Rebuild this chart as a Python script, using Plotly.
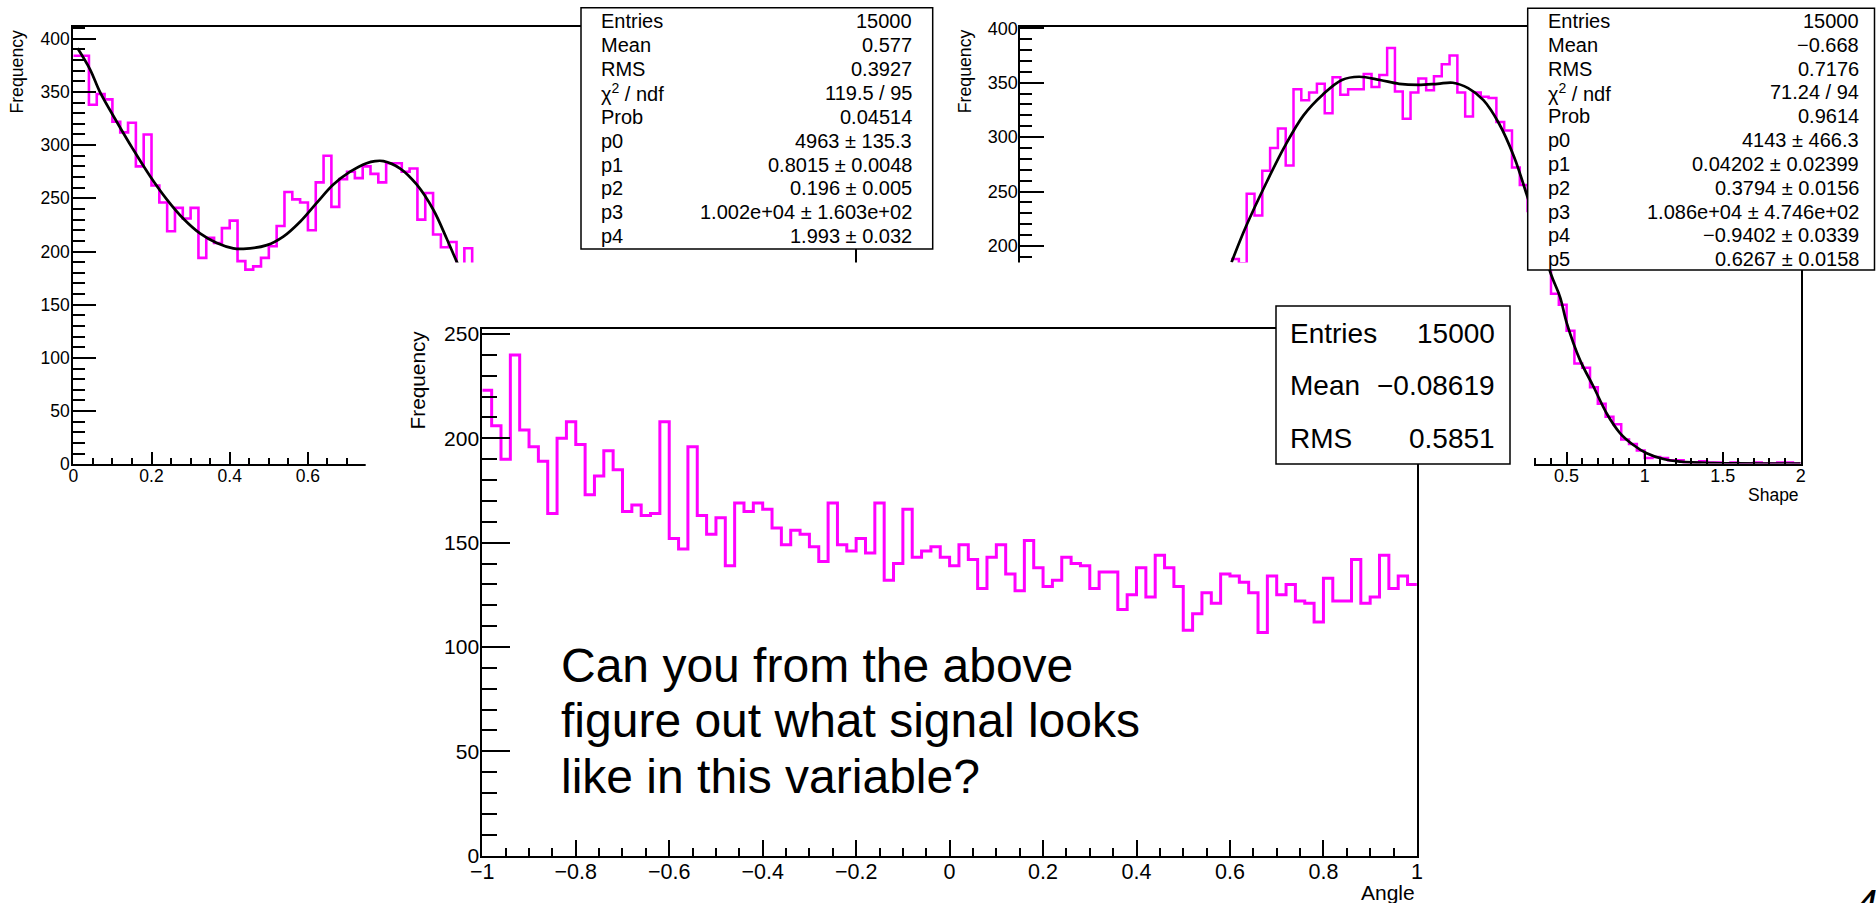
import plotly.graph_objects as go

W, H = 1876, 903
FONT = "Liberation Sans, Arial, Helvetica, sans-serif"
MAG = "#ff00ff"

# ---------------- data ----------------
# Panel A (top-left): 0.02 wide bins starting at 0
A_XMIN, A_BINW = 0.0, 0.02
a_counts = [384, 384, 338, 348, 343, 322, 312, 321, 280, 310,
            262, 246, 219, 241, 231, 241, 194, 213, 208, 222,
            229, 191, 183, 186, 194, 205, 224, 256, 249, 246,
            220, 265, 290, 242, 268, 275, 269, 280, 273, 265,
            283, 283, 275, 278, 230, 255, 216, 204, 209, 186,
            203, 180]
a_fit_x = [0.011, 0.043, 0.068, 0.111, 0.153, 0.196, 0.239, 0.281, 0.324,
           0.367, 0.409, 0.435, 0.495, 0.537, 0.580, 0.623, 0.665, 0.708,
           0.750, 0.772, 0.793, 0.836, 0.878, 0.921, 0.955, 0.981, 1.02]
a_fit_y = [391, 371, 350, 322, 296, 271, 249, 231, 217,
           208, 203, 202.5, 206, 214, 228, 246, 263, 275,
           283, 285, 285, 278, 263, 239, 212, 190, 158]
a_stats_labels = ["Entries", "Mean", "RMS", "χ<sup>2</sup> / ndf", "Prob",
                  "p0", "p1", "p2", "p3", "p4"]
a_stats_values = ["15000", "0.577", "0.3927", "119.5 / 95", "0.04514",
                  "4963 ± 135.3", "0.8015 ± 0.0048", "0.196 ± 0.005",
                  "1.002e+04 ± 1.603e+02", "1.993 ± 0.032"]

# Panel B (top-right): 0.05 wide bins, visible part from -1.65
B_XMIN, B_BINW = -1.65, 0.05
b_counts = [188, 184, 248, 228, 269, 290, 308, 274, 344, 334,
            341, 349, 322, 355, 339, 344, 344, 358, 346, 357,
            382, 342, 317, 341, 354, 343, 356, 367, 375, 341,
            319, 341, 337, 336, 314, 306, 272, 256, 232, 212,
            190, 156, 146, 122, 92, 88, 70, 55, 43, 36,
            22, 18, 12, 5, 6, 5, 3, 3, 1, 1,
            2, 1, 1, 0, 1, 0, 0, 1, 0, 0,
            1, 1, 0]
b_fit_x = [-1.647, -1.554, -1.431, -1.308, -1.186, -1.063, -0.940, -0.830,
           -0.695, -0.573, -0.450, -0.327, -0.229, -0.131, -0.033, 0.065,
           0.163, 0.249, 0.400, 0.458, 0.501, 0.586, 0.671, 0.757, 0.842,
           0.928, 1.013, 1.120, 1.226, 1.44, 1.6, 1.8, 2.0]
b_fit_y = [185, 218, 256, 291, 320, 339, 352.5, 355.5,
           352.5, 349, 348, 349, 350, 345, 334, 313,
           282, 245, 174, 153, 129, 95, 71, 46, 28,
           17, 9.4, 4.1, 1.7, 0.3, 0.05, 0.0, 0.0]
b_stats_labels = ["Entries", "Mean", "RMS", "χ<sup>2</sup> / ndf", "Prob",
                  "p0", "p1", "p2", "p3", "p4", "p5"]
b_stats_values = ["15000", "−0.668", "0.7176", "71.24 / 94", "0.9614",
                  "4143 ± 466.3", "0.04202 ± 0.02399", "0.3794 ± 0.0156",
                  "1.086e+04 ± 4.746e+02", "−0.9402 ± 0.0339",
                  "0.6267 ± 0.0158"]

# Panel C (bottom): 100 bins on [-1, 1]
C_XMIN, C_BINW = -1.0, 0.02
c_counts = [223, 206, 190, 240, 204, 196, 189, 164, 200, 208,
            197, 173, 182, 194, 185, 165, 168, 163, 164, 208,
            152, 147, 196, 163, 154, 162, 139, 169, 165, 169,
            166, 157, 149, 156, 154, 148, 141, 169, 149, 146,
            152, 145, 169, 132, 140, 166, 143, 146, 148, 143,
            139, 149, 142, 128, 143, 149, 135, 127, 151, 138,
            129, 132, 143, 140, 139, 128, 136, 136, 118, 125,
            138, 124, 144, 138, 129, 108, 116, 126, 121, 135,
            134, 131, 126, 107, 134, 125, 130, 122, 121, 112,
            133, 122, 122, 142, 121, 124, 144, 128, 134, 130]
c_stats_labels = ["Entries", "Mean", "RMS"]
c_stats_values = ["15000", "−0.08619", "0.5851"]

question_lines = ["Can you from the above",
                  "figure out what signal looks",
                  "like in this variable?"]

# ---------------- helpers ----------------
def px(x):
    return x / W


def py(y):
    return 1 - y / H


def step(xmin, bw, counts, xa, ya, width):
    edges = [xmin + i * bw for i in range(len(counts) + 1)]
    return go.Scatter(x=edges, y=list(counts) + [counts[-1]], mode="lines",
                      line=dict(color=MAG, width=width, shape="hv"),
                      xaxis=xa, yaxis=ya, showlegend=False, hoverinfo="skip")


def curve(xs, ys, xa, ya):
    return go.Scatter(x=xs, y=ys, mode="lines",
                      line=dict(color="black", width=2.7, shape="spline"),
                      xaxis=xa, yaxis=ya, showlegend=False, hoverinfo="skip")


def axis(dom, rng, anchor, dtick, mdtick, tl, mtl, fs, standoff, **kw):
    d = dict(domain=dom, range=rng, anchor=anchor, showline=True,
             linecolor="black", linewidth=2, mirror=True, ticks="inside",
             ticklen=tl, tickwidth=1.6, tickcolor="black", dtick=dtick,
             minor=dict(ticks="inside", ticklen=mtl, tickwidth=1.6,
                        tickcolor="black", dtick=mdtick, showgrid=False),
             showgrid=False, zeroline=False, fixedrange=True,
             ticklabelstandoff=standoff,
             tickfont=dict(family=FONT, size=fs, color="black"))
    d.update(kw)
    return d


fig = go.Figure()
# A
fig.add_trace(step(A_XMIN, A_BINW, a_counts, "x", "y", 2.6))
fig.add_trace(curve(a_fit_x, a_fit_y, "x", "y"))
# B
fig.add_trace(step(B_XMIN, B_BINW, b_counts, "x2", "y2", 2.5))
fig.add_trace(curve(b_fit_x, b_fit_y, "x2", "y2"))
# canvas of the lower pad (empty subplot with white background hides the upper pads)
fig.add_trace(go.Scatter(x=[], y=[], xaxis="x3", yaxis="y3", showlegend=False,
                         hoverinfo="skip"))
# C
fig.add_trace(step(C_XMIN, C_BINW, c_counts, "x4", "y4", 3.0))

fig.update_layout(
    width=W, height=H, autosize=False, template="none",
    margin=dict(l=0, r=0, t=0, b=0, pad=0),
    paper_bgcolor="white", plot_bgcolor="white", showlegend=False,
    font=dict(family=FONT, color="black"),
    xaxis=axis([px(73.3), px(855.4)], [0, 2], "y", 0.2, 0.05, 12.7, 6.7, 17.5, -5),
    yaxis=axis([py(464.3), py(26.7)], [0, 411.3], "x", 50, 10, 23, 12, 17.5, -2),
    xaxis2=axis([px(1020.4), px(1800.7)], [-3, 2], "y2", 0.5, 0.1, 11.7, 5.7, 18, -5),
    yaxis2=axis([py(463.5), py(26.7)], [0, 401.5], "x2", 50, 10, 23.7, 11.5, 18, -3),
    xaxis3=dict(domain=[px(365.7), px(1534)], anchor="y3", visible=False,
                range=[0, 1], fixedrange=True),
    yaxis3=dict(domain=[0, py(262.5)], anchor="x3", visible=False,
                range=[0, 1], fixedrange=True),
    xaxis4=axis([px(482.3), px(1416.9)], [-1, 1], "y4", 0.2, 0.05, 15.7, 7.3, 21.5, -5),
    yaxis4=axis([py(855.7), py(329)], [0, 252.4], "x4", 50, 10, 27.7, 14.3, 21, -3),
)

shapes = []
ann = []


def txt(text, x, y, xanchor, yanchor, size, angle=0, style="normal"):
    ann.append(dict(text=text, x=px(x), y=py(y), xref="paper", yref="paper",
                    xanchor=xanchor, yanchor=yanchor, showarrow=False,
                    textangle=angle,
                    font=dict(family=FONT, size=size, color="black", style=style)))


def box(x0, y0, x1, y1):
    shapes.append(dict(type="rect", xref="paper", yref="paper",
                       x0=px(x0), x1=px(x1), y0=py(y1), y1=py(y0),
                       line=dict(color="black", width=1.5), fillcolor="white",
                       layer="above"))


# axis titles
txt("Frequency", 17.3, 27.3, "center", "top", 17.7, angle=-90)
txt("Frequency", 964.9, 27.3, "center", "top", 17.7, angle=-90)
txt("Shape", 1801, 495, "right", "middle", 17.5)
txt("Frequency", 417, 329, "center", "top", 20.8, angle=-90)
txt("Angle", 1417, 892.5, "right", "middle", 21)

# stats boxes
box(581, 7.7, 932.7, 249)
for i, (l, v) in enumerate(zip(a_stats_labels, a_stats_values)):
    yy = 21.2 + 23.9 * i
    txt(l, 599.3, yy, "left", "middle", 20)
    txt(v, 914, yy, "right", "middle", 20)

box(1527.7, 8.3, 1874.5, 270)
for i, (l, v) in enumerate(zip(b_stats_labels, b_stats_values)):
    yy = 21 + 23.83 * i
    txt(l, 1545.7, yy, "left", "middle", 20)
    txt(v, 1860.7, yy, "right", "middle", 20)

box(1276, 306, 1510, 464)
for i, (l, v) in enumerate(zip(c_stats_labels, c_stats_values)):
    yy = 333.3 + 52.5 * i
    txt(l, 1287.6, yy, "left", "middle", 28)
    txt(v, 1497, yy, "right", "middle", 28)

# question text
for i, line in enumerate(question_lines):
    txt(line, 559, 665.5 + 55.4 * i, "left", "middle", 48)

# slide number (cut at the bottom edge)
txt("4", 1853, 880, "left", "top", 40, style="italic")

fig.update_layout(shapes=shapes, annotations=ann)
fig.write_html("out.html")
